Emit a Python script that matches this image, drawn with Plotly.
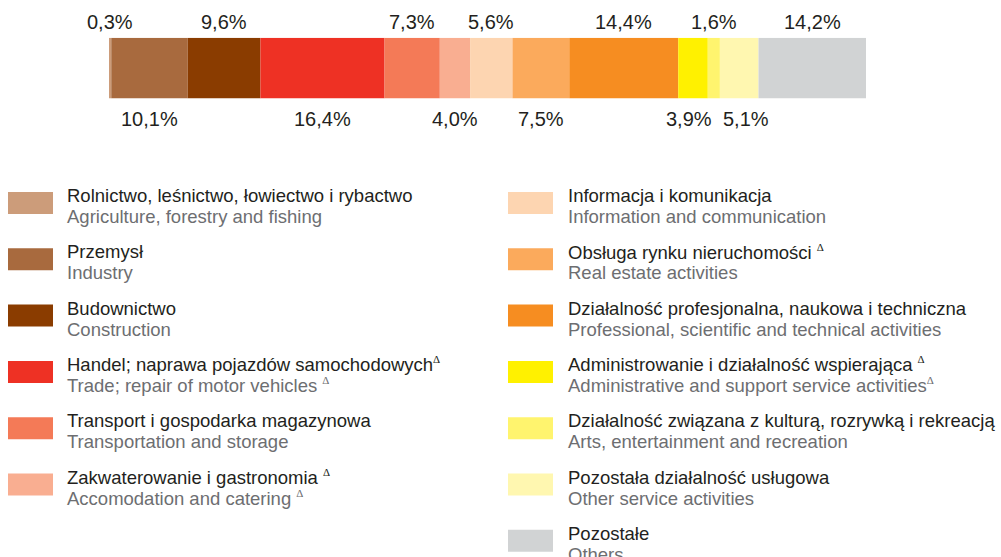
import plotly.graph_objects as go

W, H = 1001, 557

D = "<sup><span style=\"font-family:'Liberation Serif','DejaVu Serif',serif;font-size:11px\">Δ</span></sup>"

categories_pl = [
    "Rolnictwo, leśnictwo, łowiectwo i rybactwo",
    "Przemysł",
    "Budownictwo",
    "Handel; naprawa pojazdów samochodowych" + D,
    "Transport i gospodarka magazynowa",
    "Zakwaterowanie i gastronomia " + D,
    "Informacja i komunikacja",
    "Obsługa rynku nieruchomości " + D,
    "Działalność profesjonalna, naukowa i techniczna",
    "Administrowanie i działalność wspierająca " + D,
    "Działalność związana z kulturą, rozrywką i rekreacją",
    "Pozostała działalność usługowa",
    "Pozostałe",
]
categories_en = [
    "Agriculture, forestry and fishing",
    "Industry",
    "Construction",
    "Trade; repair of motor vehicles " + D,
    "Transportation and storage",
    "Accomodation and catering " + D,
    "Information and communication",
    "Real estate activities",
    "Professional, scientific and technical activities",
    "Administrative and support service activities" + D,
    "Arts, entertainment and recreation",
    "Other service activities",
    "Others",
]
values = [0.3, 10.1, 9.6, 16.4, 7.3, 4.0, 5.6, 7.5, 14.4, 3.9, 1.6, 5.1, 14.2]
value_labels = ["0,3%", "10,1%", "9,6%", "16,4%", "7,3%", "4,0%", "5,6%",
                "7,5%", "14,4%", "3,9%", "1,6%", "5,1%", "14,2%"]
label_side = ["top", "bottom", "top", "bottom", "top", "bottom", "top",
              "bottom", "top", "bottom", "top", "bottom", "top"]
colors = ["#cc9c7a", "#a86a3e", "#8a3c00", "#ee3124", "#f47a57", "#f9ae91",
          "#fdd5b1", "#fbaa5c", "#f68d21", "#fff100", "#fff46e", "#fff7b0",
          "#d1d3d4"]

FONT = "Arial, 'Liberation Sans', sans-serif"
DARK = "#231f20"
GRAY = "#6d6e71"

# small horizontal nudges (px) for crowded labels
label_nudge = {9: -4, 11: 7}

def py(pix):
    return 1 - pix / H

def px(pix):
    return pix / W

fig = go.Figure()
base = 0.0
annotations = []
for i, v in enumerate(values):
    fig.add_trace(go.Bar(
        x=[v], y=[0], base=[base], orientation="h",
        marker=dict(color=colors[i], line=dict(width=0)),
        width=1, showlegend=False, hoverinfo="skip",
    ))
    mid = base + v / 2
    ypix = 22 if label_side[i] == "top" else 118.5
    annotations.append(dict(
        x=mid, y=py(ypix), xref="x", yref="paper",
        text=value_labels[i], showarrow=False,
        xanchor="center", yanchor="middle", xshift=label_nudge.get(i, 0),
        font=dict(family=FONT, size=20, color=DARK),
    ))
    base += v

# Legend (two columns)
shapes = []
row_h = 56.3
for i in range(len(values)):
    col = 0 if i < 6 else 1
    row = i if i < 6 else i - 6
    x0 = 8 if col == 0 else 508
    tx = 65 if col == 0 else 566
    y0 = 192 + row * row_h
    shapes.append(dict(
        type="rect", xref="paper", yref="paper",
        x0=px(x0), x1=px(x0 + 45), y0=py(y0), y1=py(y0 + 22),
        fillcolor=colors[i], line=dict(width=0),
    ))
    annotations.append(dict(
        x=px(tx), y=py(y0 + 3.5), xref="paper", yref="paper",
        text=categories_pl[i], showarrow=False,
        xanchor="left", yanchor="middle",
        font=dict(family=FONT, size=18.5, color=DARK),
    ))
    annotations.append(dict(
        x=px(tx), y=py(y0 + 24.5), xref="paper", yref="paper",
        text=categories_en[i], showarrow=False,
        xanchor="left", yanchor="middle",
        font=dict(family=FONT, size=18.5, color=GRAY),
    ))

fig.update_layout(
    width=W, height=H,
    margin=dict(l=0, r=0, t=0, b=0),
    paper_bgcolor="white", plot_bgcolor="white",
    barmode="overlay",
    xaxis=dict(domain=[px(109), px(866)], range=[0, 100], visible=False,
               fixedrange=True),
    yaxis=dict(domain=[py(98.5), py(37.7)], range=[-0.5, 0.5], visible=False,
               fixedrange=True),
    annotations=annotations,
    shapes=shapes,
    showlegend=False,
)

fig.write_html(
    "out.html",
    config={"displayModeBar": False},
    post_script="document.body.style.margin='0';document.body.style.overflow='hidden';",
)
